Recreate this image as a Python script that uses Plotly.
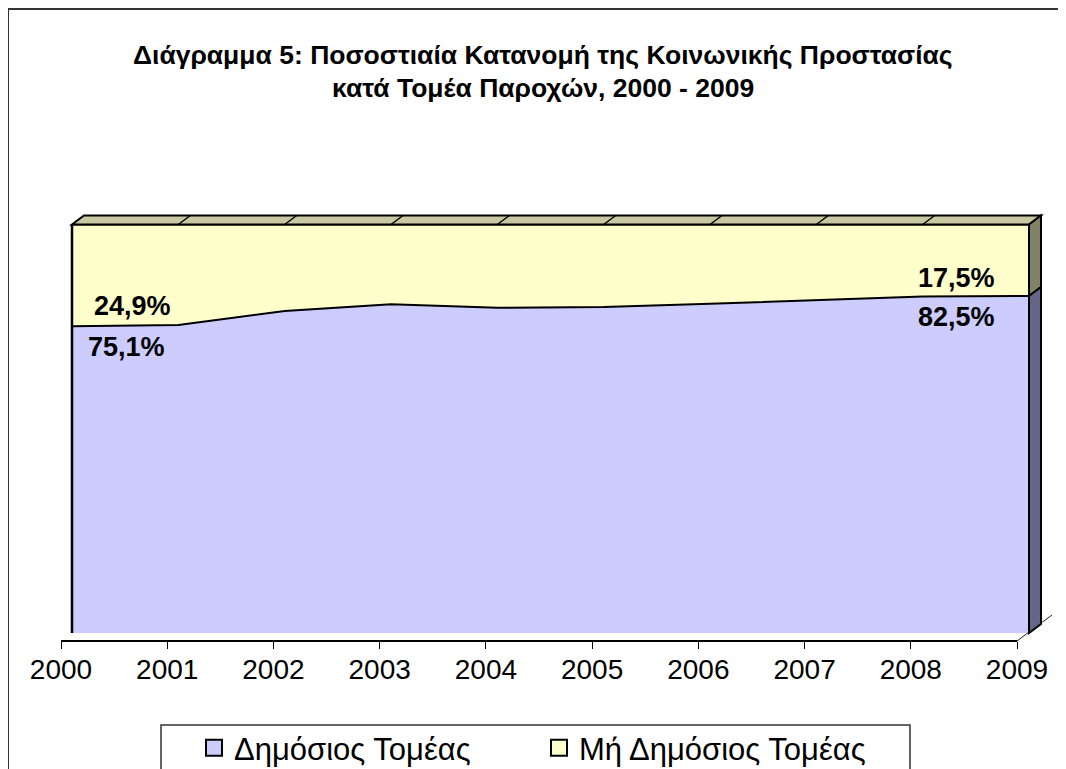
import plotly.graph_objects as go

# Data
years = [2000, 2001, 2002, 2003, 2004, 2005, 2006, 2007, 2008, 2009]
public_share = [75.1, 75.4, 78.8, 80.5, 79.6, 79.8, 80.6, 81.5, 82.4, 82.5]
private_share = [round(100 - v, 1) for v in public_share]
series_names = ["Δημόσιος Τομέας", "Μή Δημόσιος Τομέας"]
title_lines = [
    "Διάγραμμα 5: Ποσοστιαία Κατανομή της Κοινωνικής Προστασίας",
    "κατά Τομέα Παροχών, 2000 - 2009",
]

# Colours
BLUE = "#ccccff"
YELLOW = "#ffffcc"
TOP_FACE = "#c8c8a2"
SIDE_YELLOW = "#828268"
SIDE_BLUE = "#66668a"
FONT = "Liberation Sans, Arial, sans-serif"

# Page geometry (screen pixels); the page body adds an 8px margin
W, H = 1066, 769
OFF = 8
FX0, FX1 = 72, 1029      # front face: first / last year
FY0, FY1 = 633, 224.5    # front face: 0 % / 100 %
ppx = (FX1 - FX0) / (len(years) - 1)
ppy = (FY0 - FY1) / 100
DX, DY = 12 / ppx, 9 / ppy   # 3-D depth in data units

x_lo, x_hi = years[0] - 0.15, years[-1] + 0.3
y_lo, y_hi = -7, 106


def fx(p):
    return (p - OFF) / W


def fy(p):
    return 1 - (p - OFF) / H


def px_x(p):
    return years[0] + (p - FX0) / ppx


def px_y(p):
    return (FY0 - p) / ppy


fig = go.Figure()

fig.add_trace(go.Scatter(
    x=years, y=public_share, stackgroup="one", mode="lines",
    line=dict(color="black", width=2), fillcolor=BLUE,
    showlegend=False, hoverinfo="skip",
))
fig.add_trace(go.Scatter(
    x=years, y=private_share, stackgroup="one", mode="lines",
    line=dict(color="black", width=2), fillcolor=YELLOW,
    showlegend=False, hoverinfo="skip",
))

# legend entries with square swatches
for name, col in zip(series_names, [BLUE, YELLOW]):
    fig.add_trace(go.Scatter(
        x=[None], y=[None], mode="markers", name=name,
        marker=dict(symbol="square", size=16, color=col,
                    line=dict(color="black", width=2)),
    ))

# dummy trace carrying the category axis
fig.add_trace(go.Scatter(
    x=years, y=[None] * len(years), xaxis="x2", yaxis="y",
    mode="markers", showlegend=False, hoverinfo="skip",
))

shapes = []
first, last = years[0], years[-1]
# top face
shapes.append(dict(
    type="path", xref="x", yref="y", layer="above",
    path=f"M {first},100 L {last},100 L {last + DX},{100 + DY} L {first + DX},{100 + DY} Z",
    fillcolor=TOP_FACE, line=dict(color="black", width=2),
))
for yr in years[1:-1]:
    shapes.append(dict(type="line", xref="x", yref="y", layer="above",
                       x0=yr, y0=100, x1=yr + DX, y1=100 + DY,
                       line=dict(color="black", width=1.5)))
# right side faces
b = public_share[-1]
shapes.append(dict(
    type="path", xref="x", yref="y", layer="above",
    path=f"M {last},{b} L {last},100 L {last + DX},{100 + DY} L {last + DX},{b + DY} Z",
    fillcolor=SIDE_YELLOW, line=dict(color="black", width=2),
))
shapes.append(dict(
    type="path", xref="x", yref="y", layer="above",
    path=f"M {last},0 L {last},{b} L {last + DX},{b + DY} L {last + DX},{DY} Z",
    fillcolor=SIDE_BLUE, line=dict(color="black", width=2),
))
# left front edge
shapes.append(dict(type="line", xref="x", yref="y", layer="above",
                   x0=first, y0=0, x1=first, y1=100,
                   line=dict(color="black", width=2.5)))
# floor diagonal at the end of the category axis
shapes.append(dict(type="line", xref="x", yref="y", layer="above",
                   x0=px_x(1017), y0=px_y(641), x1=px_x(1052), y1=px_y(615),
                   line=dict(color="#222222", width=1)))
# outer chart border
shapes.append(dict(type="rect", xref="paper", yref="paper",
                   x0=fx(8), y0=-0.05, x1=1.05, y1=fy(9),
                   line=dict(color="#333333", width=2)))
# legend box
shapes.append(dict(type="rect", xref="paper", yref="paper",
                   x0=fx(161), y0=-0.05, x1=fx(910), y1=fy(725),
                   line=dict(color="#333333", width=1.5)))


def fmt(v):
    return f"{v:.1f}".replace(".", ",") + "%"


label_font = dict(family=FONT, size=27, color="black")
annotations = [
    dict(x=first, y=public_share[0], xref="x", yref="y", text=f"<b>{fmt(private_share[0])}</b>",
         showarrow=False, xanchor="left", yanchor="middle", xshift=20, yshift=20, font=label_font),
    dict(x=first, y=public_share[0], xref="x", yref="y", text=f"<b>{fmt(public_share[0])}</b>",
         showarrow=False, xanchor="left", yanchor="middle", xshift=14, yshift=-21, font=label_font),
    dict(x=last, y=public_share[-1], xref="x", yref="y", text=f"<b>{fmt(private_share[-1])}</b>",
         showarrow=False, xanchor="right", yanchor="middle", xshift=-32, yshift=18, font=label_font),
    dict(x=last, y=public_share[-1], xref="x", yref="y", text=f"<b>{fmt(public_share[-1])}</b>",
         showarrow=False, xanchor="right", yanchor="middle", xshift=-32, yshift=-21, font=label_font),
]
for txt, ypx in zip(title_lines, [55, 88]):
    annotations.append(dict(
        x=fx(543), y=fy(ypx), xref="paper", yref="paper",
        text=f"<b>{txt}</b>", showarrow=False, xanchor="center", yanchor="middle",
        font=dict(family=FONT, size=26.5, color="black"),
    ))

fig.update_layout(
    width=W, height=H,
    margin=dict(l=0, r=0, t=0, b=0, autoexpand=False),
    paper_bgcolor="white", plot_bgcolor="rgba(0,0,0,0)",
    font=dict(family=FONT, color="black"),
    xaxis=dict(
        range=[x_lo, x_hi],
        domain=[fx(FX0 - (first - x_lo) * ppx), fx(FX1 + (x_hi - last) * ppx)],
        visible=False, showgrid=False, zeroline=False,
    ),
    yaxis=dict(
        range=[y_lo, y_hi],
        domain=[fy(FY0 - y_lo * ppy), fy(FY1 - (y_hi - 100) * ppy)],
        visible=False, showgrid=False, zeroline=False,
    ),
    xaxis2=dict(
        range=[first, last], domain=[fx(61), fx(1017)],
        anchor="free", position=fy(641),
        showline=True, linecolor="black", linewidth=1.5,
        ticks="outside", ticklen=7, tickwidth=1.2, tickcolor="black",
        tickvals=years, ticktext=[str(y) for y in years],
        tickfont=dict(family=FONT, size=28, color="black"),
        ticklabelstandoff=-3,
        showgrid=False, zeroline=False,
    ),
    legend=dict(
        orientation="h", traceorder="normal",
        x=fx(194), xanchor="left", y=fy(748), yanchor="middle",
        font=dict(family=FONT, size=31, color="black"),
        bgcolor="rgba(0,0,0,0)", borderwidth=0,
        entrywidth=300, entrywidthmode="pixels",
    ),
    shapes=shapes,
    annotations=annotations,
)

fig.write_html("out.html")
